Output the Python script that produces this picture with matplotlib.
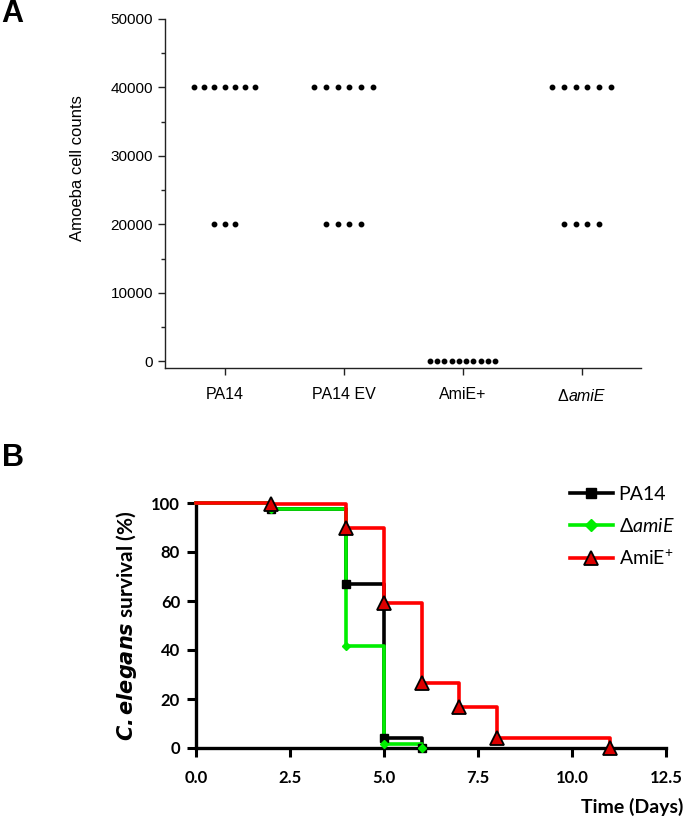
import numpy as np
import matplotlib
matplotlib.use("Agg")
import matplotlib.pyplot as plt
from matplotlib.lines import Line2D
from matplotlib.offsetbox import TextArea, HPacker, AnnotationBbox

plt.rcParams['mathtext.fontset'] = 'custom'
plt.rcParams['mathtext.rm'] = 'Lato'
plt.rcParams['mathtext.it'] = 'Lato:italic'
plt.rcParams['mathtext.bf'] = 'Lato:bold'

# ---- Panel A: amoeba cell counts per strain ----
strains = ["PA14", "PA14 EV", "AmiE+", "ΔamiE"]
pa14_counts = [40000, 40000, 40000, 40000, 40000, 40000, 40000, 20000, 20000, 20000]
pa14ev_counts = [40000, 40000, 40000, 40000, 40000, 40000, 20000, 20000, 20000, 20000]
amie_plus_counts = [0, 0, 0, 0, 0, 0, 0, 0, 0, 0]
delta_amie_counts = [40000, 40000, 40000, 40000, 40000, 40000, 20000, 20000, 20000, 20000]
a_yticks = [0, 10000, 20000, 30000, 40000, 50000]

# ---- Panel B: C. elegans survival ----
pa14_days = [0, 2, 4, 5, 6]
pa14_surv = [100, 97.5, 66.8, 4.2, 0]
delta_days = [0, 2, 4, 5, 6]
delta_surv = [100, 97.5, 41.6, 1.5, 0]
amie_days = [0, 2, 4, 5, 6, 7, 8, 11]
amie_surv = [100, 99.6, 90, 59, 26.5, 16.6, 4, 0]
b_xticks = [0.0, 2.5, 5.0, 7.5, 10.0, 12.5]
b_yticks = [0, 20, 40, 60, 80, 100]

fig = plt.figure(figsize=(6.85, 8.16), dpi=100)

# panel A
axA = fig.add_axes([165/685, 1-368/816, (641-165)/685, (368-19)/816])
groups = [pa14_counts, pa14ev_counts, amie_plus_counts, delta_amie_counts]
spacing = [0.086, 0.1, 0.061, 0.1]  # horizontal dot spacing per column
for i, counts in enumerate(groups):
    counts = np.array(counts)
    for v in np.unique(counts):
        n = np.sum(counts == v)
        xs = i + 1 + (np.arange(n) - (n - 1) / 2) * spacing[i]
        axA.plot(xs, np.full(n, v), 'o', color='black', markersize=3.2,
                 clip_on=False)

axA.set_xlim(0.5, 4.5)
axA.set_ylim(-1000, 50000)
axA.set_yticks(a_yticks)
axA.set_yticks(np.arange(5000, 50000, 10000), minor=True)
axA.set_xticks([1, 2, 3, 4])
axA.set_xticklabels(strains[:3] + [""])
for s in ['top', 'right']:
    axA.spines[s].set_visible(False)
for s in ['left', 'bottom']:
    axA.spines[s].set_linewidth(1.0)
    axA.spines[s].set_color('#222222')
axA.tick_params(axis='both', which='major', direction='out', length=5,
                width=1.0, color='#222222')
axA.tick_params(axis='y', which='major', labelsize=11)
axA.tick_params(axis='x', labelsize=11.5, pad=9)
axA.tick_params(axis='y', which='minor', direction='out', length=3, width=1.0,
                color='#222222')
for lab in axA.get_xticklabels() + axA.get_yticklabels():
    lab.set_fontfamily('Liberation Sans')

# Delta-amiE label: upright delta + italic gene name
lbl = HPacker(children=[
    TextArea("Δ", textprops=dict(family='Liberation Sans', size=11.5)),
    TextArea("amiE", textprops=dict(family='Liberation Sans', size=11.5,
                                    style='italic'))],
    sep=0, pad=0, align='baseline')
ab = AnnotationBbox(lbl, (4, 0), xycoords=axA.get_xaxis_transform(),
                    xybox=(0, -20.5), boxcoords='offset points',
                    frameon=False, box_alignment=(0.5, 0.5))
axA.add_artist(ab)

fig.text(77/685, 1-168/816, "Amoeba cell counts", rotation=90,
         ha='center', va='center', family='Liberation Sans', size=12)
fig.text(1/685, 1-14/816, "A", ha='left', va='center', weight='bold',
         size=22, family=['Liberation Sans Narrow', 'Liberation Sans'])

# panel B
axB = fig.add_axes([196/685, 1-748/816, (666-196)/685, (748-503)/816])
axB.step(pa14_days, pa14_surv, where='post', color='black', lw=2.6,
         zorder=2, clip_on=False)
axB.step(delta_days, delta_surv, where='post', color='#00ee00', lw=2.6,
         zorder=3, clip_on=False)
axB.step(amie_days, amie_surv, where='post', color='#ff0000', lw=2.6,
         zorder=4, clip_on=False)
axB.plot(pa14_days[1:], pa14_surv[1:], 's', color='black', markersize=6,
         zorder=5, clip_on=False)
axB.plot(delta_days[1:], delta_surv[1:], 'D', color='#00ee00', markersize=4.5,
         zorder=5, clip_on=False)
axB.plot(amie_days[1:], amie_surv[1:], '^', markerfacecolor='#dd0000',
         markeredgecolor='black', markeredgewidth=1.3, markersize=10,
         zorder=6, clip_on=False)

axB.set_xlim(0, 12.5)
axB.set_ylim(0, 100)
axB.set_xticks(b_xticks)
axB.set_xticklabels([f"{t:.1f}" for t in b_xticks])
axB.set_yticks(b_yticks)
for s in ['top', 'right']:
    axB.spines[s].set_visible(False)
for s in ['left', 'bottom']:
    axB.spines[s].set_linewidth(2.4)
axB.tick_params(axis='both', direction='out', length=6.5, width=2.2,
                labelsize=12, pad=5)
for lab in axB.get_xticklabels() + axB.get_yticklabels():
    lab.set_fontfamily('Lato')
    lab.set_fontweight('bold')
axB.tick_params(axis='x', pad=9)
axB.set_ylabel(r"$\mathbfit{C. elegans}$ survival (%)", family='Lato',
               weight='bold', size=15, labelpad=9)
fig.text(683/685, 1-807/816, "Time (Days)", ha='right', va='center',
         family='Lato', weight='bold', size=14)
fig.text(2/685, 1-458/816, "B", ha='left', va='center', weight='bold',
         size=22, family='Liberation Sans')

handles = [
    Line2D([], [], color='black', lw=2.6, marker='s', markersize=7),
    Line2D([], [], color='#00ee00', lw=2.6, marker='D', markersize=6),
    Line2D([], [], color='#ff0000', lw=2.6, marker='^', markersize=10,
           markerfacecolor='#dd0000', markeredgecolor='black',
           markeredgewidth=1.3),
]
labels = ["PA14", r"Δ$\mathit{amiE}$", r"AmiE$^{+}$"]
fig.legend(handles, labels, loc='upper left',
           bbox_to_anchor=(570/685, 1-486/816), frameon=False,
           prop=dict(family='Lato', size=14), handlelength=2.2,
           handletextpad=0.3, labelspacing=0.7, borderpad=0,
           borderaxespad=0)

fig.savefig("out.png", dpi=100)
